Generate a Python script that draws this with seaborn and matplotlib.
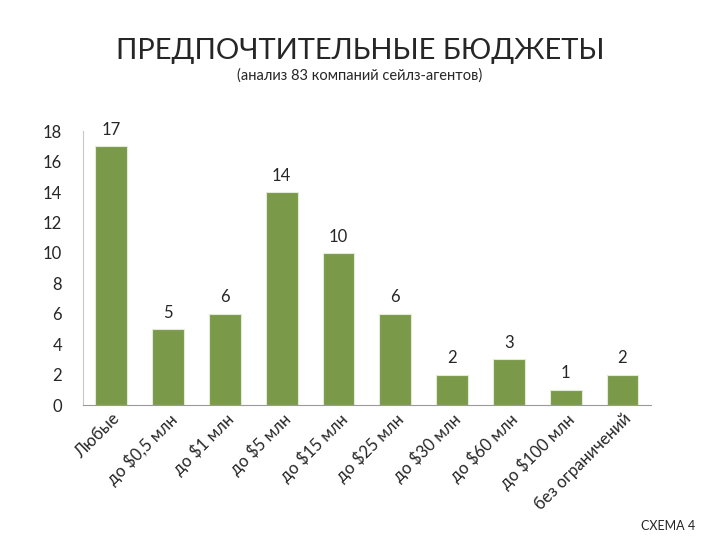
import matplotlib
matplotlib.use('Agg')
import matplotlib.pyplot as plt
import seaborn as sns
import pandas as pd

# данные: предпочтительные бюджеты
categories = ['Любые', 'до $0,5 млн', 'до $1 млн', 'до $5 млн', 'до $15 млн',
              'до $25 млн', 'до $30 млн', 'до $60 млн', 'до $100 млн', 'без ограничений']
counts = [17, 5, 6, 14, 10, 6, 2, 3, 1, 2]
yticks = [0, 2, 4, 6, 8, 10, 12, 14, 16, 18]

sns.set_style('white')
plt.rcParams['font.family'] = ['Lato', 'Open Sans', 'DejaVu Sans']

df = pd.DataFrame({'cat': categories, 'n': counts})

fig = plt.figure(figsize=(7.2, 5.4), dpi=100)
ax = fig.add_axes([0.115, 0.25, 0.789, 0.507])
sns.barplot(data=df, x='cat', y='n', color='#7a9a4a', saturation=1, width=0.56,
            edgecolor='#e4ead8', linewidth=0.8, ax=ax)
ax.bar_label(ax.containers[0], fontsize=12, padding=6)

ax.set_ylim(0, 18)
ax.set_yticks(yticks)
ax.set_xlim(-0.5, len(categories) - 0.5)
ax.set_xlabel('')
ax.set_ylabel('')
ax.tick_params(axis='y', labelsize=12, length=0, pad=15)
ax.tick_params(axis='x', labelsize=12, length=0, pad=4)
plt.setp(ax.get_xticklabels(), rotation=45, ha='right', rotation_mode='anchor')
for s in ['top', 'right']:
    ax.spines[s].set_visible(False)
ax.spines['left'].set_color('#c8c8c8')
ax.spines['bottom'].set_color('#9a9a9a')

fig.text(0.5, 0.905, 'ПРЕДПОЧТИТЕЛЬНЫЕ БЮДЖЕТЫ', ha='center', va='center', fontsize=21)
fig.text(0.5, 0.86, '(анализ 83 компаний сейлз-агентов)', ha='center', va='center', fontsize=10.5)
fig.text(0.965, 0.025, 'СХЕМА 4', ha='right', va='center', fontsize=9)

plt.savefig('out.png', dpi=100)
